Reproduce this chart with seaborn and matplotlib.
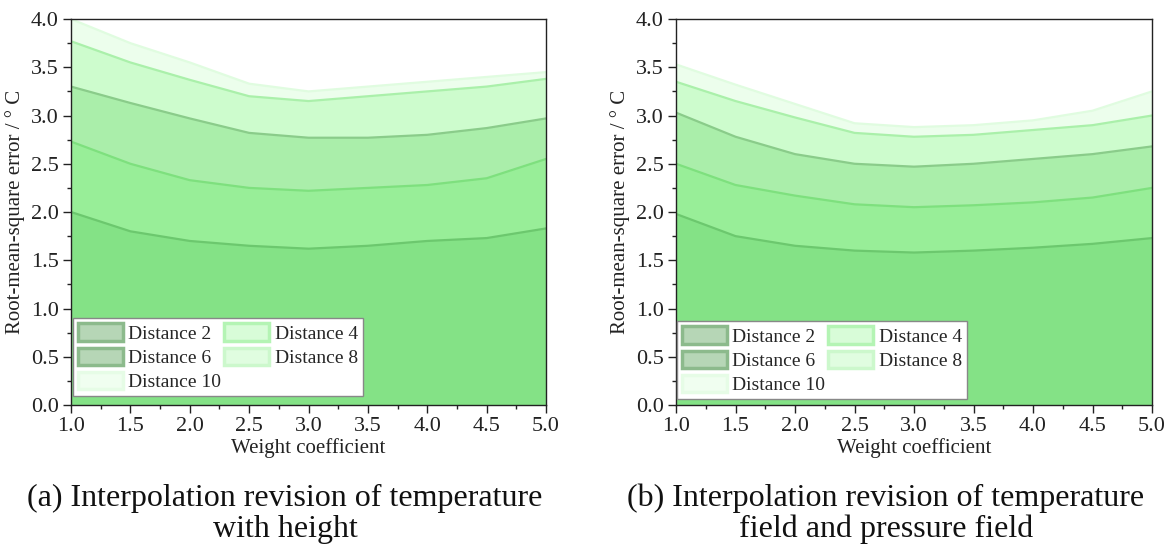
import numpy as np
import pandas as pd
import matplotlib.pyplot as plt
import seaborn as sns
from matplotlib.patches import Patch
from matplotlib.ticker import MultipleLocator

sns.set_theme(style='ticks')
plt.rcParams['font.family'] = ['Liberation Serif', 'DejaVu Serif']

weights = [1.0, 1.5, 2.0, 2.5, 3.0, 3.5, 4.0, 4.5, 5.0]
labels = ['Distance 2', 'Distance 4', 'Distance 6', 'Distance 8', 'Distance 10']

# (a) temperature with height
a_d2 = [2.00, 1.80, 1.70, 1.65, 1.62, 1.65, 1.70, 1.73, 1.83]
a_d4 = [2.73, 2.50, 2.33, 2.25, 2.22, 2.25, 2.28, 2.35, 2.55]
a_d6 = [3.30, 3.13, 2.97, 2.82, 2.77, 2.77, 2.80, 2.87, 2.97]
a_d8 = [3.77, 3.55, 3.37, 3.20, 3.15, 3.20, 3.25, 3.30, 3.38]
a_d10 = [4.00, 3.75, 3.55, 3.33, 3.25, 3.30, 3.35, 3.40, 3.45]

# (b) temperature field and pressure field
b_d2 = [1.98, 1.75, 1.65, 1.60, 1.58, 1.60, 1.63, 1.67, 1.73]
b_d4 = [2.50, 2.28, 2.17, 2.08, 2.05, 2.07, 2.10, 2.15, 2.25]
b_d6 = [3.03, 2.78, 2.60, 2.50, 2.47, 2.50, 2.55, 2.60, 2.68]
b_d8 = [3.35, 3.15, 2.98, 2.82, 2.78, 2.80, 2.85, 2.90, 3.00]
b_d10 = [3.53, 3.32, 3.12, 2.92, 2.88, 2.90, 2.95, 3.05, 3.25]

captions = ['(a) Interpolation revision of temperature\nwith height',
            '(b) Interpolation revision of temperature\nfield and pressure field']

fill_cols = ['#84e286', '#98ee98', '#aaeeaa', '#cdfccd', '#ecfeec']
line_cols = ['#6cc86e', '#7ee07e', '#8acc8a', '#aaf0aa', '#e0fce0']
leg_face = ['#b6d6b6', '#d8fcd8', '#b6d6b6', '#e0fde0', '#f0fef0']
leg_edge = ['#8cba8c', '#b4f4b4', '#8cba8c', '#ccf8cc', '#e6fce6']

fig = plt.figure(figsize=(11.68, 5.49), dpi=100)
axes = [fig.add_axes([0.0608, 0.2623, 0.4067, 0.703]),
        fig.add_axes([0.5788, 0.2623, 0.4075, 0.703])]
panels = [[a_d2, a_d4, a_d6, a_d8, a_d10], [b_d2, b_d4, b_d6, b_d8, b_d10]]
leg_anchor = [(2 / 475, 9 / 386), (1 / 476, 6 / 386)]
cap_x = [285 / 1168, 886 / 1168]

for ax, series, anc, cx, cap in zip(axes, panels, leg_anchor, cap_x, captions):
    df = pd.DataFrame({'w': weights})
    for lab, vals in zip(labels, series):
        df[lab] = vals
    # draw largest band first so lower bands sit on top
    for i in range(4, -1, -1):
        ax.fill_between(df['w'], 0, df[labels[i]], color=fill_cols[i], lw=0, zorder=1 + (4 - i))
    for i in range(5):
        sns.lineplot(data=df, x='w', y=labels[i], ax=ax, color=line_cols[i], lw=1.6, zorder=7)

    ax.set_xlim(1.0, 5.0)
    ax.set_ylim(0.0, 4.0)
    ax.xaxis.set_major_locator(MultipleLocator(0.5))
    ax.xaxis.set_minor_locator(MultipleLocator(0.25))
    ax.yaxis.set_major_locator(MultipleLocator(0.5))
    ax.yaxis.set_minor_locator(MultipleLocator(0.25))
    ax.xaxis.set_major_formatter(plt.FormatStrFormatter('%.1f'))
    ax.yaxis.set_major_formatter(plt.FormatStrFormatter('%.1f'))
    ax.tick_params(which='major', direction='out', length=6, width=1, labelsize=16, colors='#222222', pad=3)
    ax.tick_params(which='minor', direction='out', length=3, width=1, colors='#222222')
    for sp in ax.spines.values():
        sp.set_color('#222222')
        sp.set_linewidth(1.0)
        sp.set_zorder(10)
    ax.set_xlabel('Weight coefficient', fontsize=15, labelpad=1, color='#222222')
    ax.set_ylabel('Root-mean-square error / ° C', fontsize=15, labelpad=4, color='#222222')
    ax.grid(False)

    order = [0, 2, 4, 1, 3]
    handles = [Patch(facecolor=leg_face[i], edgecolor=leg_edge[i], lw=2.5, label=labels[i]) for i in order]
    leg = ax.legend(handles=handles, ncol=2, loc='lower left', bbox_to_anchor=anc,
                    borderaxespad=0, fontsize=14, frameon=True, fancybox=False,
                    handlelength=2.3, handleheight=1.0, handletextpad=0.3,
                    columnspacing=0.15, labelspacing=0.25, borderpad=0.25)
    leg.get_frame().set_edgecolor('#888888')
    leg.get_frame().set_linewidth(1.0)
    leg.get_frame().set_facecolor('white')
    leg.get_frame().set_alpha(1)
    leg.set_zorder(20)

    fig.text(cx, 0.064, cap, ha='center', va='center', fontsize=23, linespacing=1.1, color='#111111')

fig.savefig('out.png', dpi=100, facecolor='white')
